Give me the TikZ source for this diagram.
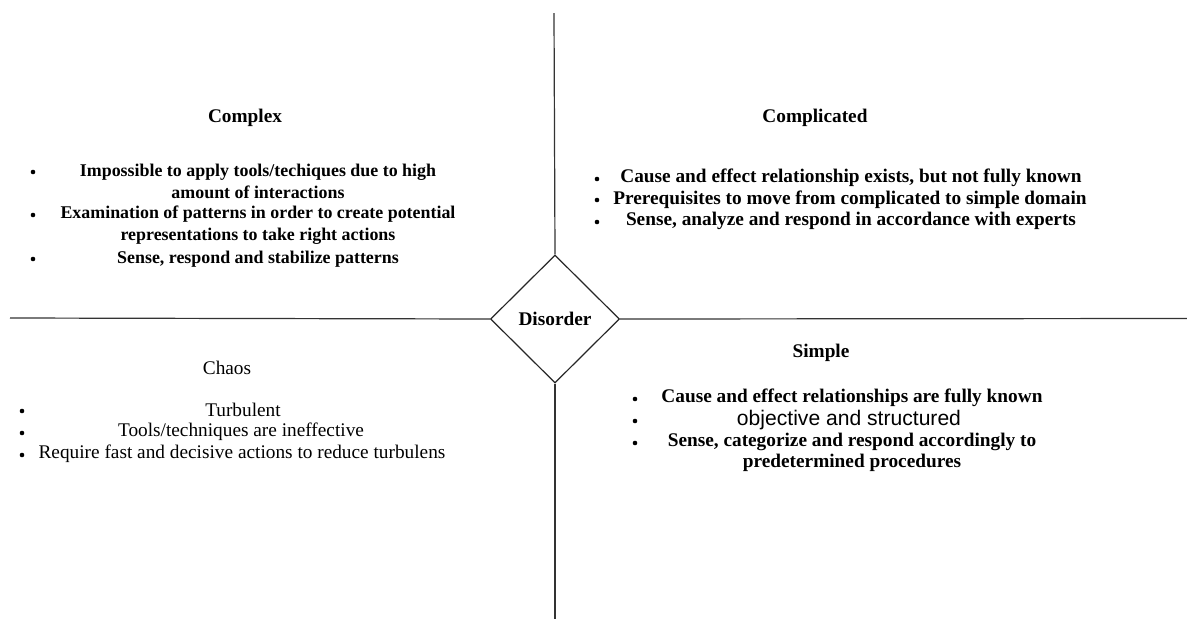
\documentclass[tikz,border=0pt]{standalone}
\usepackage{fontspec}
\setmainfont{Liberation Serif}
\setsansfont{Liberation Sans}
\usetikzlibrary{shapes.geometric}
\begin{document}
\begin{tikzpicture}[x=1pt,y=-1pt,
  axis/.style={draw=black!80,line width=1.2pt},
  title/.style={font=\fontsize{19.3}{21.7}\selectfont\bfseries,inner sep=0pt},
  entry/.style={font=\fontsize{19.3}{21.7}\selectfont\bfseries,align=center,inner sep=0pt},
  small/.style={font=\fontsize{17.9}{21.7}\selectfont\bfseries,align=center,inner sep=0pt},
  plain/.style={font=\fontsize{19.3}{21.7}\selectfont,align=center,inner sep=0pt},
  dot/.style={circle,fill=black,inner sep=0pt,minimum size=4.6pt}]
\useasboundingbox (0,0) rectangle (1187,619);

% centre diamond
\node[diamond,draw=black!85,line width=1.2pt,minimum width=129,minimum height=128,
      inner sep=0pt,font=\fontsize{19.3}{21.7}\selectfont\bfseries] (dis) at (555,319) {Disorder};

% axis ends
\coordinate (top) at (554,13);
\coordinate (bot) at (555,619);
\coordinate (lft) at (10,318);
\coordinate (rgt) at (1187,318.5);
\draw[axis] (top) -- (dis.north);
\draw[axis] (dis.south) -- (bot);
\draw[axis] (lft) -- (dis.west);
\draw[axis] (dis.east) -- (rgt);

% Complex
\node[title] (cxT) at (245,118) {Complex};
\node[small] (cx1) at (258,181.5) {Impossible to apply tools/techiques due to high\\amount of interactions};
\node[small] (cx2) at (258,225) {Examination of patterns in order to create potential\\representations to take right actions};
\node[small] (cx3) at (258,259) {Sense, respond and stabilize patterns};
\node[dot] (cxb1) at (33,172) {};
\node[dot] (cxb2) at (33,215) {};
\node[dot] (cxb3) at (33,259) {};

% Complicated
\node[title] (coT) at (815,118) {Complicated};
\node[entry] (co1) at (851,178) {Cause and effect relationship exists, but not fully known};
\node[entry] (co2) at (850,199.5) {Prerequisites to move from complicated to simple domain};
\node[entry] (co3) at (851,221) {Sense, analyze and respond in accordance with experts};
\node[dot] (cob1) at (597,179) {};
\node[dot] (cob2) at (597,200) {};
\node[dot] (cob3) at (597,222) {};

% Chaos
\node[title,font=\fontsize{19.3}{21.7}\selectfont] (chT) at (227,368) {Chaos};
\node[plain] (ch1) at (243,410) {Turbulent};
\node[plain] (ch2) at (241,432) {Tools/techniques are ineffective};
\node[plain] (ch3) at (242,454) {Require fast and decisive actions to reduce turbulens};
\node[dot] (chb1) at (22,411) {};
\node[dot] (chb2) at (22,433) {};
\node[dot] (chb3) at (22,455) {};

% Simple
\node[title] (siT) at (821,353) {Simple};
\node[entry] (si1) at (852,398) {Cause and effect relationships are fully known};
\node[plain,font=\sffamily\fontsize{21.1}{21.7}\selectfont] (si2) at (849,420) {objective and structured};
\node[entry] (si3) at (852,452.5) {Sense, categorize and respond accordingly to\\predetermined procedures};
\node[dot] (sib1) at (635,399) {};
\node[dot] (sib2) at (635,421) {};
\node[dot] (sib3) at (635,443) {};
\end{tikzpicture}
\end{document}
